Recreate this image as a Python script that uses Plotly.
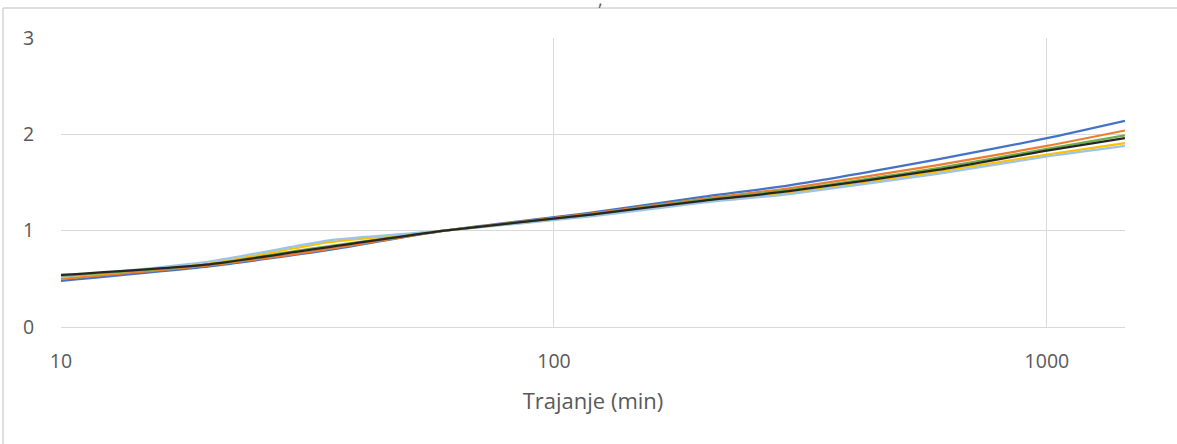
import plotly.graph_objects as go

# Durations (min)
durations = [10, 20, 30, 35, 60, 120, 200, 300, 600, 1000, 1440]

# Ratio series (relative to 60 min)
s_blue      = [0.48, 0.63, 0.75, 0.80, 1.00, 1.19, 1.35, 1.47, 1.74, 1.96, 2.14]
s_orange    = [0.50, 0.64, 0.76, 0.81, 1.00, 1.18, 1.33, 1.44, 1.68, 1.88, 2.04]
s_yellow    = [0.52, 0.66, 0.82, 0.88, 1.00, 1.16, 1.30, 1.39, 1.61, 1.79, 1.91]
s_lightblue = [0.52, 0.68, 0.84, 0.90, 1.00, 1.15, 1.29, 1.38, 1.59, 1.77, 1.88]
s_green     = [0.53, 0.65, 0.79, 0.84, 1.00, 1.17, 1.32, 1.42, 1.65, 1.85, 1.99]
s_black     = [0.54, 0.65, 0.78, 0.83, 1.00, 1.17, 1.31, 1.41, 1.63, 1.83, 1.96]

series = [
    ("s1", s_blue, "#4472C4"),
    ("s2", s_orange, "#ED7D31"),
    ("s3", s_yellow, "#FFC000"),
    ("s4", s_lightblue, "#9DC3E6"),
    ("s5", s_green, "#70AD47"),
    ("s6", s_black, "#262626"),
]

x_ticks = [10, 100, 1000]
y_ticks = [0, 1, 2, 3]

fig = go.Figure()
for name, vals, col in series:
    fig.add_trace(go.Scatter(
        x=durations, y=vals, mode="lines", name=name,
        line=dict(color=col, width=2.25, shape="spline", smoothing=0.6),
        showlegend=False, hoverinfo="skip",
    ))

W, H = 1177, 444
L, R, T, B = 61, 1125, 38, 327
pw, ph = R - L, B - T

def px(x):
    return (x - L) / pw

def py(y):
    return (B - y) / ph

fig.update_layout(
    width=W, height=H,
    margin=dict(l=L, r=W - R, t=T, b=H - B, pad=0),
    paper_bgcolor="white", plot_bgcolor="white",
    font=dict(family="Open Sans", color="#595959"),
    xaxis=dict(
        type="log", range=[1, 3.1584],
        tickvals=x_ticks, ticktext=[str(v) for v in x_ticks],
        showgrid=True, gridcolor="#D9D9D9", gridwidth=1,
        showline=True, linecolor="#D9D9D9", linewidth=1,
        zeroline=False, ticks="outside", ticklen=17, tickcolor="rgba(0,0,0,0)",
        tickfont=dict(size=19.5, color="#595959"),
        title=dict(text="Trajanje (min)", font=dict(size=22, color="#595959"), standoff=20),
    ),
    yaxis=dict(
        range=[0, 3], tickvals=y_ticks,
        showgrid=True, gridcolor="#D9D9D9", gridwidth=1,
        zeroline=False, showline=False,
        ticks="outside", ticklen=22, tickcolor="rgba(0,0,0,0)",
        tickfont=dict(size=19.5, color="#595959"),
    ),
    shapes=[
        dict(type="line", xref="paper", yref="paper", x0=px(3), x1=px(3), y0=py(8), y1=py(460),
             line=dict(color="#BFBFBF", width=1)),
        dict(type="line", xref="paper", yref="paper", x0=px(3), x1=px(1190), y0=py(8), y1=py(8),
             line=dict(color="#BFBFBF", width=1)),
    ],
    annotations=[
        dict(text=",", xref="paper", yref="paper", x=px(600), y=py(-15), xanchor="center",
             yanchor="top", showarrow=False, font=dict(size=18, color="#595959")),
    ],
)

fig.write_html("out.html", config={"displayModeBar": False},
               post_script="document.body.style.margin='0';")
